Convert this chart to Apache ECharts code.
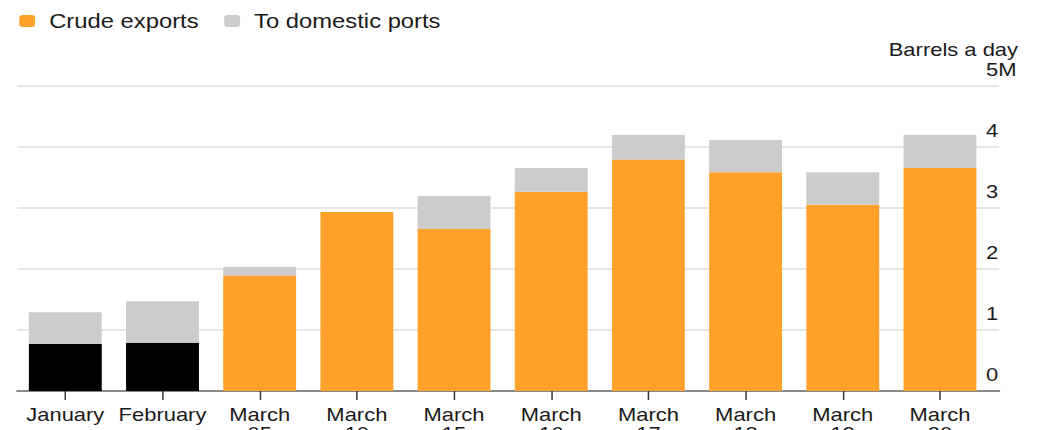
<!DOCTYPE html>
<html>
<head>
<meta charset="utf-8">
<script src="https://cdn.jsdelivr.net/npm/echarts@6/dist/echarts.min.js"></script>
<style>
html,body{margin:0;padding:0;background:#fff;overflow:hidden;}
#wrap{width:1038px;height:430px;overflow:hidden;position:relative;}
#chart{height:430px;transform-origin:0 0;}
</style>
</head>
<body>
<div id="wrap"><div id="chart"></div></div>
<script>
// ---- data ----
const categories = ['January', 'February', 'March\n05', 'March\n10', 'March\n15', 'March\n16', 'March\n17', 'March\n18', 'March\n19', 'March\n20'];
const crudeExports = [0.77, 0.79, 1.89, 2.93, 2.65, 3.26, 3.79, 3.58, 3.05, 3.65];
const toDomesticPorts = [0.52, 0.68, 0.14, 0.0, 0.54, 0.39, 0.40, 0.53, 0.53, 0.54];
const yTicks = [0, 1, 2, 3, 4, 5];
const darkMonths = 2; // first bars drawn in black

// ---- layout (the reference is stretched horizontally) ----
const S = 1.22;
const W = 1038 / S;
const el = document.getElementById('chart');
el.style.width = W + 'px';
el.style.transform = 'scaleX(' + S + ')';

const FONT = '"Liberation Sans", Arial, sans-serif';
const ORANGE = '#ffa12b', GREY = '#cccccc';

const chart = echarts.init(el, null, {renderer: 'svg', width: W, height: 430});
chart.setOption({
  animation: false,
  textStyle: {fontFamily: FONT},
  title: {
    text: 'Barrels a day', right: 11.3, top: 36,
    textStyle: {fontSize: 18, fontWeight: 'normal', color: '#1a1a1a', fontFamily: FONT}
  },
  legend: {
    left: 10.8, top: 6, itemWidth: 13, itemHeight: 12, itemGap: 21,
    icon: 'roundRect',
    textStyle: {fontSize: 19.5, color: '#1a1a1a', fontFamily: FONT, padding: [0, 0, 0, 6.5]},
    data: [{name: 'Crude exports', itemStyle: {color: ORANGE}}, {name: 'To domestic ports', itemStyle: {color: GREY}}]
  },
  grid: [
    {left: 14.2, right: W - 818.9, top: 85.5, bottom: 39, outerBoundsMode: 'none', containLabel: false},
    {left: 13.7, right: W - 810.3, top: 85.5, bottom: 39, outerBoundsMode: 'none', containLabel: false}
  ],
  xAxis: [
    {gridIndex: 0, type: 'value', min: 0, max: 1, axisLabel: {show: false}, axisTick: {show: false}, splitLine: {show: false},
     axisLine: {show: true, lineStyle: {color: '#888', width: 2}}},
    {gridIndex: 1, type: 'category', data: categories,
     axisLine: {show: false},
     axisTick: {show: true, alignWithLabel: true, length: 9, lineStyle: {color: '#333', width: 1.2}},
     axisLabel: {margin: 14, fontSize: 18, lineHeight: 19, color: '#1a1a1a', fontFamily: FONT, interval: 0}}
  ],
  yAxis: [
    {gridIndex: 0, type: 'value', position: 'right', min: yTicks[0], max: yTicks[yTicks.length - 1], interval: 1,
     axisLine: {show: false}, axisTick: {show: false},
     splitLine: {show: true, lineStyle: {color: '#e6e6e6', width: 2}},
     axisLabel: {inside: true, margin: 10.7, align: 'left', verticalAlign: 'bottom', padding: [0, 0, 7, 0],
       fontSize: 18, color: '#1a1a1a', fontFamily: FONT,
       formatter: v => (v === yTicks[yTicks.length - 1] ? v + 'M' : String(v))}},
    {gridIndex: 1, type: 'value', min: yTicks[0], max: yTicks[yTicks.length - 1], interval: 1, show: false, splitLine: {show: false}}
  ],
  series: [
    {name: 'Crude exports', type: 'bar', stack: 'total', xAxisIndex: 1, yAxisIndex: 1, barCategoryGap: '25%',
     itemStyle: {color: ORANGE},
     data: crudeExports.map((v, i) => i < darkMonths ? {value: v, itemStyle: {color: '#000'}} : v)},
    {name: 'To domestic ports', type: 'bar', stack: 'total', xAxisIndex: 1, yAxisIndex: 1, barCategoryGap: '25%',
     itemStyle: {color: GREY}, data: toDomesticPorts}
  ]
});
</script>
</body>
</html>
